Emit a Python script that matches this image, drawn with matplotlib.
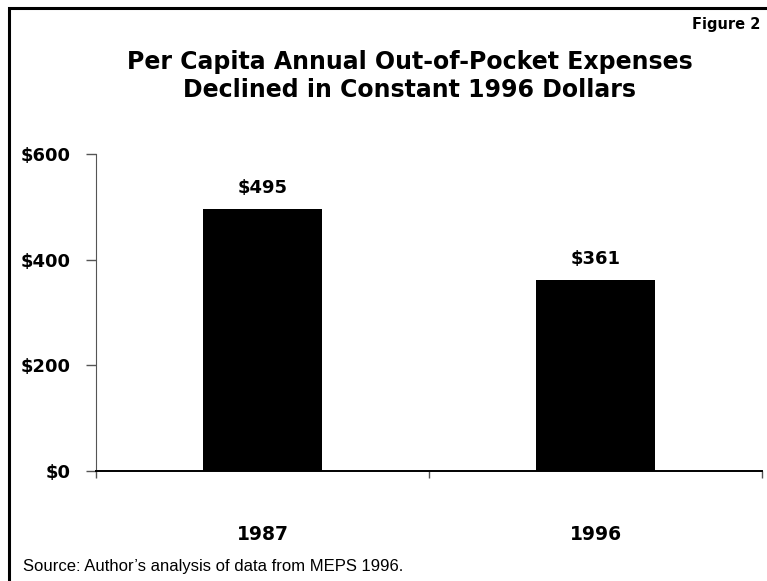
import matplotlib
matplotlib.use("Agg")
import matplotlib.pyplot as plt
from matplotlib.patches import Rectangle

# data
years = ["1987", "1996"]
spending = [495, 361]
bar_labels = ["$495", "$361"]
yticks = [0, 200, 400, 600]
ytick_labels = ["$0", "$200", "$400", "$600"]

title = "Per Capita Annual Out-of-Pocket Expenses\nDeclined in Constant 1996 Dollars"
source = "Source: Author\u2019s analysis of data from MEPS 1996."

BOLD = "DejaVu Sans"
PLAIN = "Liberation Sans"

fig = plt.figure(figsize=(7.67, 5.81), dpi=100)

# frame round the slide (only left and top edges show)
fig.patches.append(Rectangle((9 / 767, -0.1), 2.0, 1.1 - 8 / 581, transform=fig.transFigure,
                             fill=False, edgecolor="black", linewidth=2.2))

ax = fig.add_axes([96 / 767, (581 - 471) / 581, (762 - 96) / 767, (471 - 154) / 581])

xs = range(len(years))
ax.bar(xs, spending, width=0.36, color="black")
for x, v, lab in zip(xs, spending, bar_labels):
    ax.annotate(lab, (x, v), xytext=(0, 9), textcoords="offset points",
                ha="center", va="bottom", fontsize=13, fontweight="bold", family=BOLD)

ax.set_xlim(-0.5, 1.5)
ax.set_ylim(0, 600)
ax.set_yticks(yticks)
ax.set_yticklabels(ytick_labels, fontsize=13, fontweight="bold", family=BOLD)
ax.set_xticks([-0.5, 0.5, 1.5])
ax.set_xticklabels([])
ax.set_xticks(list(xs), minor=True)
ax.set_xticklabels(years, minor=True, fontsize=13.5, fontweight="bold", family=BOLD)
ax.tick_params(axis="x", which="minor", length=0, pad=39)
ax.tick_params(axis="x", which="major", length=5, width=1, color="#555555", direction="out")
ax.tick_params(axis="y", length=7, width=1, color="#555555", pad=11)

for s in ["top", "right"]:
    ax.spines[s].set_visible(False)
ax.spines["left"].set_color("#555555")
ax.spines["bottom"].set_color("black")
ax.spines["bottom"].set_linewidth(1.4)

fig.text(410 / 767, 1 - 76 / 581, title, ha="center", va="center", fontsize=17,
         fontweight="bold", family=BOLD, linespacing=1.25)
fig.text(760 / 767, 1 - 24 / 581, "Figure 2", ha="right", va="center", fontsize=10.5,
         fontweight="bold", family=BOLD)
fig.text(23 / 767, 1 - 567 / 581, source, ha="left", va="center", fontsize=12, family=PLAIN)

fig.savefig("out.png", dpi=100)
